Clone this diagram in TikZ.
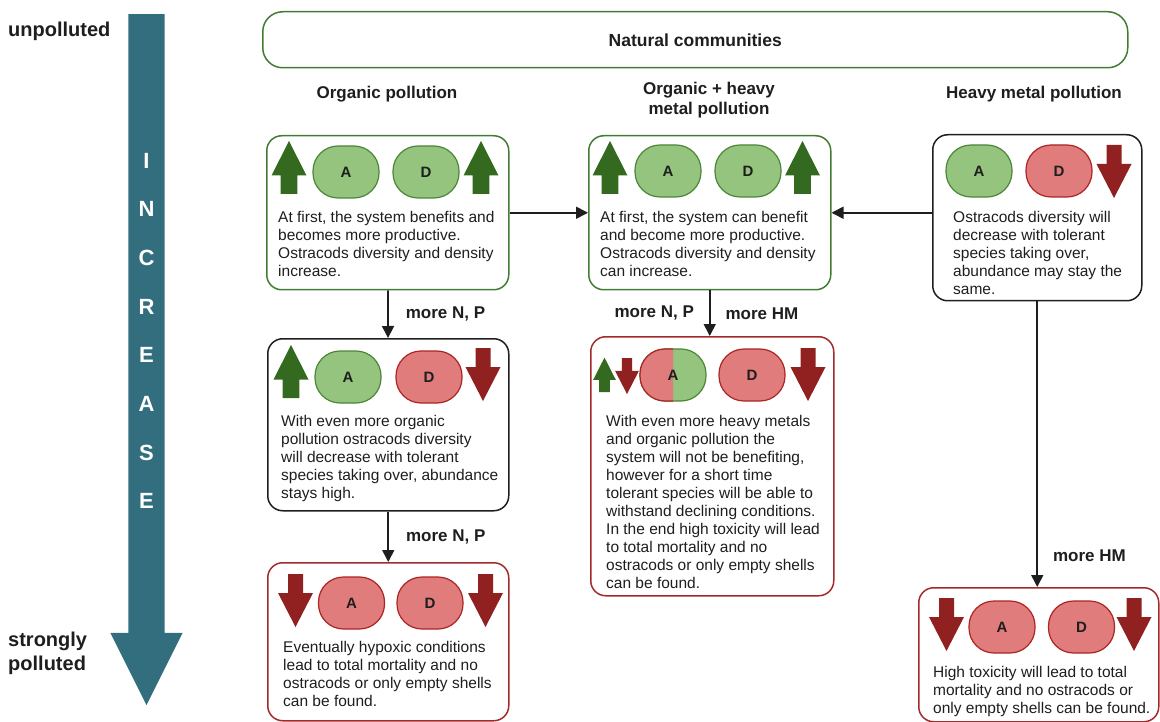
\documentclass[tikz,border=0pt]{standalone}
\usepackage{fontspec}
\setmainfont{Liberation Sans}
\usetikzlibrary{arrows.meta,positioning,shapes.arrows}
\definecolor{BoxGreen}{RGB}{66,124,52}
\definecolor{BoxRed}{RGB}{162,42,42}
\definecolor{DarkGreen}{RGB}{52,106,32}
\definecolor{DarkRed}{RGB}{145,32,32}
\definecolor{SoftGreen}{RGB}{148,196,126}
\definecolor{SoftRed}{RGB}{224,124,124}
\definecolor{BlobGreenLine}{RGB}{76,134,56}
\definecolor{BlobRedLine}{RGB}{172,36,36}
\definecolor{Teal}{RGB}{50,110,126}
\definecolor{Ink}{RGB}{30,30,30}
\tikzset{
  box/.style={draw,rounded corners=15pt,line width=1.5pt,anchor=north west,inner sep=0pt},
  gbox/.style={box,draw=BoxGreen},
  rbox/.style={box,draw=BoxRed},
  kbox/.style={box,draw=Ink},
  blob/.style={rounded corners=25pt,minimum width=66pt,minimum height=52pt,
    line width=1.2pt,inner sep=0pt,text=Ink,font=\bfseries\fontsize{15}{17}\selectfont},
  blobG/.style={blob,draw=BlobGreenLine,fill=SoftGreen},
  blobR/.style={blob,draw=BlobRedLine,fill=SoftRed},
  upG/.pic={\fill[DarkGreen] (-8.3,0) -- (-8.3,-18.5) -- (-17.5,-18.5) -- (0,-53)
    -- (17.5,-18.5) -- (8.3,-18.5) -- (8.3,0) -- cycle;},
  downR/.pic={\fill[DarkRed] (-7.5,0) -- (-7.5,19) -- (-17.5,19) -- (0,53)
    -- (17.5,19) -- (7.5,19) -- (7.5,0) -- cycle;},
  txt/.style={anchor=north west,align=left,inner sep=0pt,text=Ink,
    font=\fontsize{15.5}{18}\selectfont},
  lbl/.style={inner sep=0pt,text=Ink,font=\bfseries\fontsize{17}{20}\selectfont},
  head/.style={lbl,align=center},
  incr/.style={inner sep=0pt,text=white,font=\bfseries\fontsize{22}{24}\selectfont},
  arrow/.style={-{Triangle[length=12pt,width=12pt]},line width=1.7pt,Ink}
}
\begin{document}
\begin{tikzpicture}[x=1pt,y=-1pt]
  \useasboundingbox (0,0) rectangle (1160,722);

  % pollution scale
  \node[single arrow,fill=Teal,draw=none,rotate=-90,anchor=tail,minimum height=691pt,
    inner sep=18pt,single arrow head extend=18pt,single arrow tip angle=53.13,
    single arrow head indent=0pt] (scale) at (146.5,14) {};
  \foreach \ch [count=\i from 0] in {I,N,C,R,E,A,S,E}
    \node[incr] (inc\i) at (146.5,{160.5+48.7*\i}) {\ch};
  \node[lbl,font=\bfseries\fontsize{20}{24}\selectfont,anchor=base west] (clean) at (8,36.5) {unpolluted};
  \node[lbl,font=\bfseries\fontsize{20}{24}\selectfont,anchor=north west,align=left] (dirty) at (8,632) {strongly\\polluted};

  % top box and column heads
  \node[gbox,rounded corners=20pt,minimum width=865pt,minimum height=56pt] (natural) at (262,11) {};
  \node[lbl,font=\bfseries\fontsize{17.5}{20}\selectfont] (naturaltxt) at (natural) {Natural communities};
  \node[head] (hdorg) at (387,94.5) {Organic pollution};
  \node[head,font=\bfseries\fontsize{17}{20}\selectfont] (hdmix) at (709,100) {Organic + heavy\\metal pollution};
  \node[head] (hdhm) at (1034,94.5) {Heavy metal pollution};

  % organic pollution
  \node[gbox,minimum width=242pt,minimum height=154pt] (o1) at (266,135) {};
  \pic (o1u) at (289,194) {upG};
  \node[blobG] (o1A) at (346,172) {A};
  \node[blobG] (o1D) at (426,172) {D};
  \pic (o1v) at (481,194) {upG};
  \node[txt] (o1txt) at (278,211) {At first, the system benefits and\\becomes more productive.\\Ostracods diversity and density\\increase.};

  \node[kbox,minimum width=241pt,minimum height=172pt] (o2) at (267,338) {};
  \pic (o2u) at (291,398) {upG};
  \node[blobG] (o2A) at (348,377) {A};
  \node[blobR] (o2D) at (429,377) {D};
  \pic (o2v) at (483,348) {downR};
  \node[txt] (o2txt) at (281,415) {With even more organic\\pollution ostracods diversity\\will decrease with tolerant\\species taking over, abundance\\stays high.};

  \node[rbox,minimum width=241pt,minimum height=158pt] (o3) at (267,562) {};
  \pic (o3u) at (295.5,574) {downR};
  \node[blobR] (o3A) at (351.5,603) {A};
  \node[blobR] (o3D) at (430,603) {D};
  \pic (o3v) at (485.5,574) {downR};
  \node[txt] (o3txt) at (283,641.5) {Eventually hypoxic conditions\\lead to total mortality and no\\ostracods or only empty shells\\can be found.};

  % organic + heavy metal pollution
  \node[gbox,minimum width=242pt,minimum height=154pt] (m1) at (588,135) {};
  \pic (m1u) at (610,194) {upG};
  \node[blobG] (m1A) at (668,171) {A};
  \node[blobG] (m1D) at (748,171) {D};
  \pic (m1v) at (802.5,194) {upG};
  \node[txt] (m1txt) at (600,211) {At first, the system can benefit\\and become more productive.\\Ostracods diversity and density\\can increase.};

  \node[rbox,minimum width=243pt,minimum height=259pt] (m2) at (590,336) {};
  \pic[scale=0.65] (m2u) at (604.5,392) {upG};
  \pic[scale=0.68] (m2d) at (627,358) {downR};
  \node[blobG] (m2A) at (673,375) {};
  \begin{scope}
    \clip ([xshift=-2pt,yshift=2pt]m2A.north west) rectangle ([yshift=-2pt]m2A.south);
    \node[blobR] (m2Ared) at (m2A) {};
  \end{scope}
  \node[blob] (m2Atxt) at (m2A) {A};
  \node[blobR] (m2D) at (752,375) {D};
  \pic (m2v) at (808,348) {downR};
  \node[txt] (m2txt) at (606,415) {With even more heavy metals\\and organic pollution the\\system will not be benefiting,\\however for a short time\\tolerant species will be able to\\withstand declining conditions.\\In the end high toxicity will lead\\to total mortality and no\\ostracods or only empty shells\\can be found.};

  % heavy metal pollution
  \node[kbox,minimum width=209pt,minimum height=166pt] (h1) at (932,134) {};
  \node[blobG] (h1A) at (979,171) {A};
  \node[blobR] (h1D) at (1059,171) {D};
  \pic (h1v) at (1114,145) {downR};
  \node[txt] (h1txt) at (953,211) {Ostracods diversity will\\decrease with tolerant\\species taking over,\\abundance may stay the\\same.};

  \node[rbox,minimum width=240pt,minimum height=134pt] (h2) at (918,587) {};
  \pic (h2u) at (946.5,598) {downR};
  \node[blobR] (h2A) at (1002,627) {A};
  \node[blobR] (h2D) at (1081.5,627) {D};
  \pic (h2v) at (1134,598) {downR};
  \node[txt] (h2txt) at (933,666) {High toxicity will lead to total\\mortality and no ostracods or\\only empty shells can be found.};

  % connectors
  \draw[arrow] (o1) -- (m1);
  \draw[arrow] (h1.west |- m1) -- (m1);
  \draw[arrow] (o1) -- node[lbl,right=17pt] {more N, P} (o2);
  \draw[arrow] (o2) -- node[lbl,right=17pt] {more N, P} (o3);
  \draw[arrow] (m1) -- node[lbl,left=15pt] {more N, P} node[lbl,right=15pt] {more HM} (m1 |- m2.north);
  \draw[arrow] (h1.south) -- node[lbl,pos=0.89,right=15pt] {more HM} (h1.south |- h2.north);
\end{tikzpicture}
\end{document}
